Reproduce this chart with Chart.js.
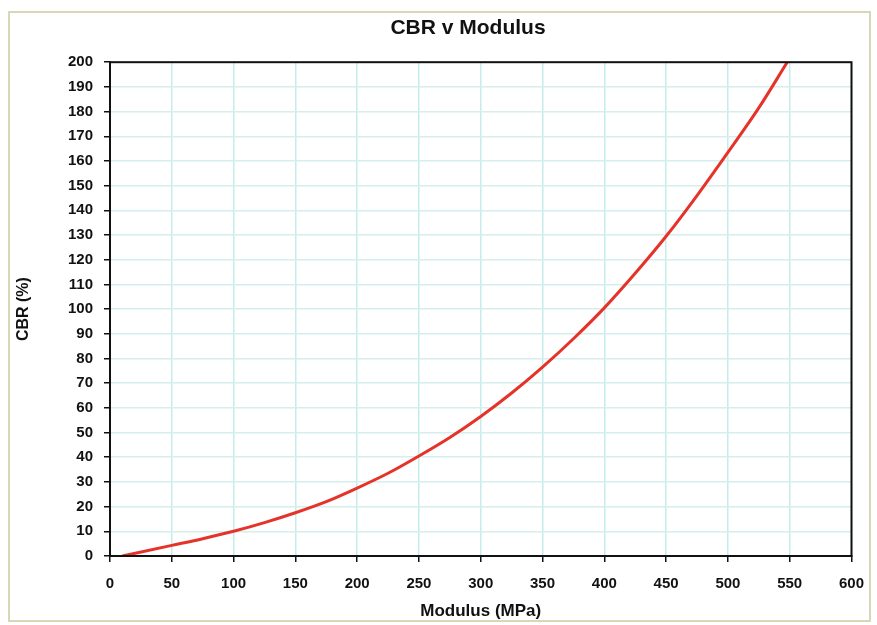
<!DOCTYPE html>
<html>
<head>
<meta charset="utf-8">
<script src="https://cdn.jsdelivr.net/npm/chart.js@4/dist/chart.umd.min.js"></script>
<style>
  html, body { margin: 0; padding: 0; background: #fff; }
  #wrap { width: 877px; height: 625px; }
</style>
</head>
<body>
<div id="wrap"><canvas id="chart" width="877" height="625"></canvas></div>
<script>
// valores
const modulus = [10, 50, 75, 100, 125, 150, 175, 200, 225, 250, 275, 300, 325, 350, 375, 400, 425, 450, 475, 500, 525, 548];
const cbr = [0, 4.3, 7, 10, 13.5, 17.5, 22, 27.5, 33.5, 40.5, 48, 56.5, 66, 76.5, 88, 100.5, 114.5, 129.5, 146, 163.5, 181.5, 200];

const xMin = 0, xMax = 600, xStep = 50;
const yMin = 0, yMax = 200, yStep = 10;

const fonte = "'Liberation Sans', Arial, sans-serif";

// moldura externa, borda da area do grafico e posicao do titulo
const molduraPlugin = {
  id: 'moldura',
  afterLayout(chart) {
    if (chart.titleBlock) chart.titleBlock.left = 83; // titulo centrado como no original
  },
  beforeDraw(chart) {
    const c = chart.ctx;
    c.save();
    c.fillStyle = '#ffffff';
    c.fillRect(0, 0, chart.width, chart.height);
    c.strokeStyle = '#d8d8b8';
    c.lineWidth = 2;
    c.strokeRect(9, 12, 861, 609);
    c.restore();
  },
  afterDatasetsDraw(chart) {
    const a = chart.chartArea;
    const c = chart.ctx;
    c.save();
    c.strokeStyle = '#111';
    c.lineWidth = 2;
    c.strokeRect(a.left, a.top, a.right - a.left, a.bottom - a.top);
    c.restore();
  }
};

const ctx = document.getElementById('chart').getContext('2d');
const grafico = new Chart(ctx, {
  type: 'line',
  data: {
    datasets: [{
      label: 'CBR',
      data: modulus.map((m, i) => ({ x: m, y: cbr[i] })),
      borderColor: '#e5332a',
      borderWidth: 3,
      pointRadius: 0,
      cubicInterpolationMode: 'monotone',
      fill: false
    }]
  },
  options: {
    responsive: false,
    animation: false,
    layout: { padding: { left: 0, right: 24, top: 0, bottom: 0 } },
    plugins: {
      legend: { display: false },
      tooltip: { enabled: false },
      title: {
        display: true,
        text: 'CBR v Modulus',
        color: '#111',
        font: { family: fonte, size: 21, weight: 'bold' },
        padding: { top: 16, bottom: 21 }
      }
    },
    scales: {
      x: {
        type: 'linear',
        min: xMin, max: xMax,
        ticks: {
          stepSize: xStep,
          color: '#111',
          font: { family: fonte, size: 15, weight: 'bold' },
          padding: 13,
          maxRotation: 0
        },
        grid: { color: '#c4ecec', lineWidth: 1.5, tickColor: '#111', tickLength: 6 },
        border: { color: '#111', width: 2 },
        title: {
          display: true,
          text: 'Modulus (MPa)',
          color: '#111',
          font: { family: fonte, size: 17, weight: 'bold' },
          padding: { top: 6, bottom: 3 }
        },
        afterFit(scale) { scale.height = 69; }
      },
      y: {
        type: 'linear',
        min: yMin, max: yMax,
        ticks: {
          stepSize: yStep,
          color: '#111',
          font: { family: fonte, size: 15, weight: 'bold' },
          padding: 11
        },
        grid: { color: '#d6eeee', lineWidth: 1.5, tickColor: '#111', tickLength: 6 },
        border: { color: '#111', width: 2 },
        title: {
          display: true,
          text: 'CBR (%)',
          color: '#111',
          font: { family: fonte, size: 16, weight: 'bold' },
          padding: { top: 14, bottom: 0 }
        },
        afterFit(scale) { scale.width = 110; }
      }
    }
  },
  plugins: [molduraPlugin]
});
</script>
</body>
</html>
